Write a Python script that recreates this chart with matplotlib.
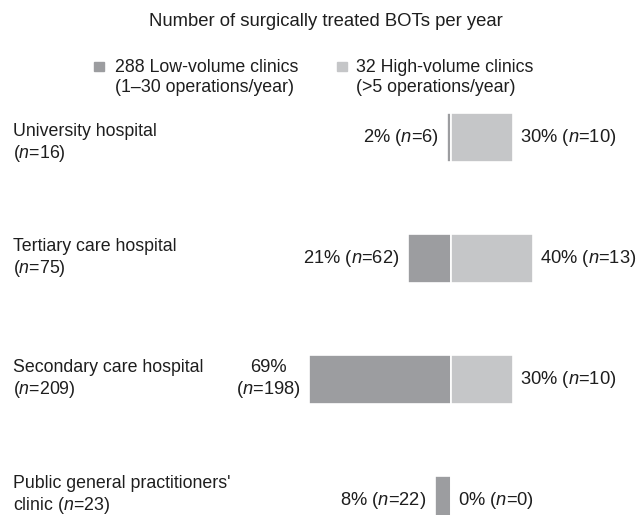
import matplotlib
matplotlib.use("Agg")
import matplotlib.pyplot as plt
from matplotlib.patches import Rectangle

plt.rcParams['font.family'] = ['Liberation Sans', 'DejaVu Sans']
plt.rcParams['mathtext.fontset'] = 'custom'
plt.rcParams['mathtext.rm'] = 'Liberation Sans'
plt.rcParams['mathtext.it'] = 'Liberation Sans:italic'

# data
categories = ["University hospital\n($n$=16)",
              "Tertiary care hospital\n($n$=75)",
              "Secondary care hospital\n($n$=209)",
              "Public general practitioners'\nclinic ($n$=23)"]
low_pct = [2, 21, 69, 8]
low_n = [6, 62, 198, 22]
high_pct = [30, 40, 30, 0]
high_n = [10, 13, 10, 0]
low_sep = [" ", " ", "\n", " "]   # the 69% label wraps in the original

low_color = '#9c9da0'
high_color = '#c5c6c8'
txt_color = '#1e1e1e'
fs_val = 13.2
fs_lab = 12.8

W, H = 637, 515
fig = plt.figure(figsize=(W / 100, H / 100), dpi=100)
ax = fig.add_axes([0, 0, 1, 1])

y = list(range(len(categories)))
ax.barh(y, [-p for p in low_pct], height=0.405, color=low_color,
        edgecolor='white', linewidth=1.2)
ax.barh(y, high_pct, height=0.405, color=high_color,
        edgecolor='white', linewidth=1.2)

label_dy = [-6, 0, 0, 5]  # row labels sit a little off the bar centres (px, up)

for i in y:
    ax.annotate(f"{low_pct[i]}%{low_sep[i]}($n$={low_n[i]})",
                xy=(-low_pct[i], i), xytext=(-6, 0), textcoords='offset points',
                ha='right', va='center', multialignment='center',
                fontsize=fs_val, color=txt_color, linespacing=1.2)
    ax.annotate(f"{high_pct[i]}% ($n$={high_n[i]})",
                xy=(high_pct[i], i), xytext=(5, 0), textcoords='offset points',
                ha='left', va='center', fontsize=fs_val, color=txt_color)
    ax.annotate(categories[i], xy=(0, i), xycoords=('figure pixels', 'data'),
                xytext=(13, label_dy[i]), textcoords='offset pixels',
                ha='left', va='center', fontsize=fs_lab, color=txt_color,
                linespacing=1.2)

# centre line at x px 451, 2.06 px per percent; rows every 121 px
scale = 2.06
ax.set_xlim(-451 / scale, (W - 451) / scale)
ax.set_ylim((H - 137.5) / 121, -137.5 / 121)
ax.axis('off')

fig.text(326 / W, 1 - 22 / H, "Number of surgically treated BOTs per year",
         ha='center', va='center', fontsize=13.3, color=txt_color)

# legend
for sx, tx, col, lab in [
        (94, 115, low_color, "288 Low-volume clinics\n(1\u201330 operations/year)"),
        (337, 356, high_color, "32 High-volume clinics\n(>5 operations/year)")]:
    fig.patches.append(Rectangle((sx / W, 1 - 71 / H), 10 / W, 9 / H,
                                 transform=fig.transFigure, color=col))
    fig.text(tx / W, 1 - 59 / H, lab, ha='left', va='top', fontsize=fs_lab,
             color=txt_color, linespacing=1.2)

fig.savefig("out.png", dpi=100)
